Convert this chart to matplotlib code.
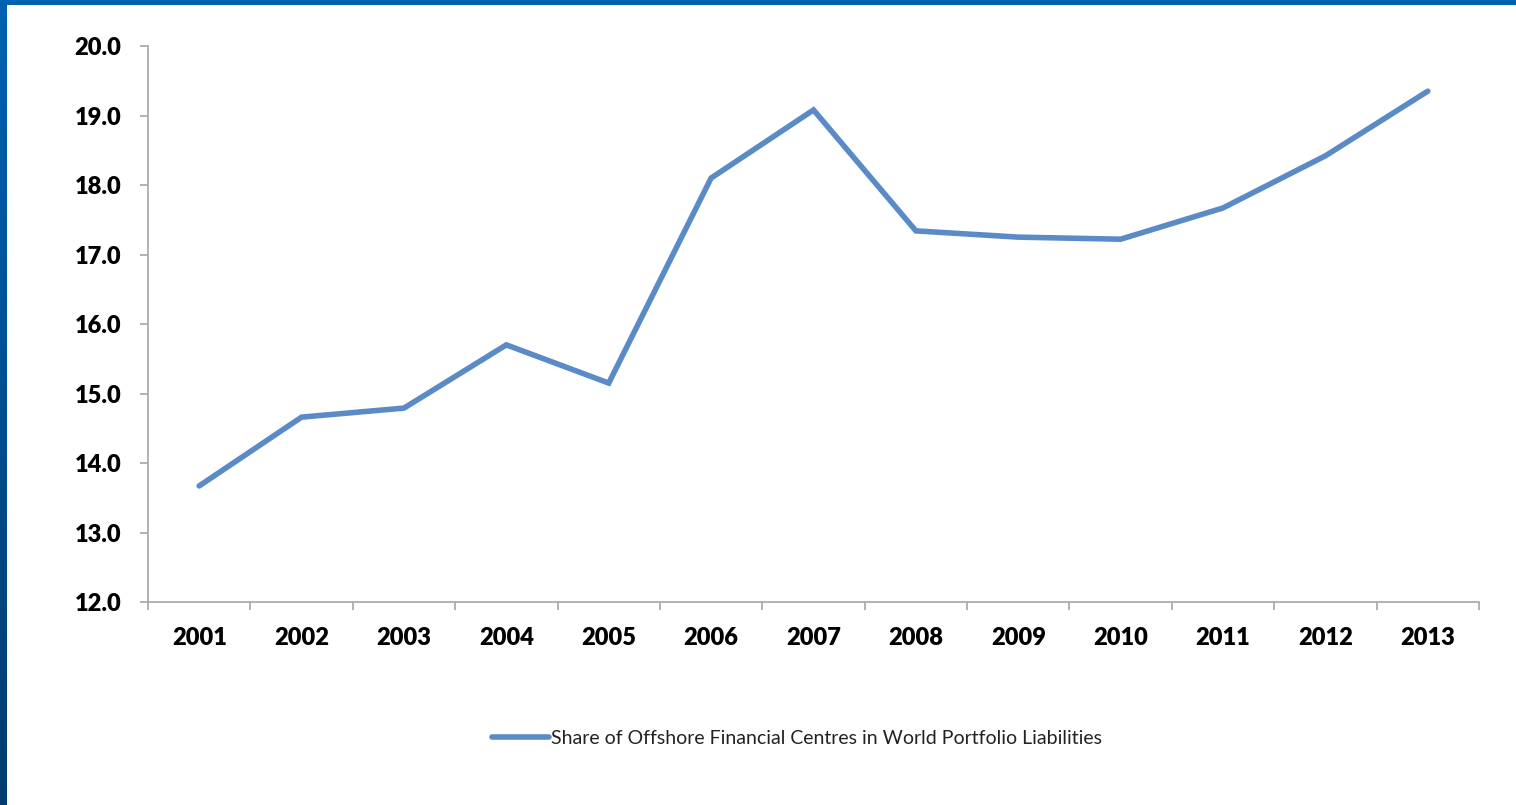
import matplotlib
matplotlib.use("Agg")
import matplotlib.pyplot as plt
import numpy as np
from matplotlib.colors import LinearSegmentedColormap

years = ["2001", "2002", "2003", "2004", "2005", "2006", "2007",
         "2008", "2009", "2010", "2011", "2012", "2013"]
share = [13.67, 14.66, 14.79, 15.70, 15.15, 18.10, 19.08,
         17.34, 17.25, 17.22, 17.67, 18.42, 19.35]
yticks = [12.0, 13.0, 14.0, 15.0, 16.0, 17.0, 18.0, 19.0, 20.0]
series_label = "Share of Offshore Financial Centres in World Portfolio Liabilities"

W, H = 1516, 805
fig = plt.figure(figsize=(W / 100, H / 100), dpi=100)
fig.patch.set_facecolor("white")

# blue frame: top band and left gradient band
top = fig.add_axes([0, 1 - 5 / H, 1, 5 / H])
top.set_facecolor("#0062b3")
top.set_xticks([]); top.set_yticks([])
for s in top.spines.values():
    s.set_visible(False)
left = fig.add_axes([0, 0, 7 / W, 1])
grad = np.linspace(0, 1, 256).reshape(-1, 1)
cmap = LinearSegmentedColormap.from_list("b", ["#0062b3", "#003c6e"])
left.imshow(grad, aspect="auto", cmap=cmap, extent=[0, 1, 0, 1])
left.set_xticks([]); left.set_yticks([])
for s in left.spines.values():
    s.set_visible(False)

ax = fig.add_axes([148 / W, 1 - 602 / H, (1479 - 148) / W, (602 - 46) / H])
x = np.arange(len(years))
line, = ax.plot(x, share, color="#5b8bc6", linewidth=4.0, solid_capstyle="round",
                solid_joinstyle="miter", label=series_label)

ax.set_xlim(-0.5, len(years) - 0.5)
ax.set_ylim(12.0, 20.0)
ax.set_yticks(yticks)
ax.set_yticklabels([f"{v:.1f}" for v in yticks])
ax.set_xticks(x)
ax.set_xticklabels(years)
ax.set_xticks(np.arange(-0.5, len(years)), minor=True)

font = "Lato"
for lab in ax.get_yticklabels() + ax.get_xticklabels():
    lab.set_fontfamily(font)
    lab.set_fontweight("heavy")
    lab.set_fontsize(17)

grey = "#a6a6a6"
for s in ["top", "right"]:
    ax.spines[s].set_visible(False)
for s in ["left", "bottom"]:
    ax.spines[s].set_color(grey)
    ax.spines[s].set_linewidth(1.2)
ax.tick_params(axis="y", direction="out", length=6, width=1.2, color=grey, pad=13)
ax.tick_params(axis="x", which="major", length=0, pad=18)
ax.tick_params(axis="x", which="minor", direction="out", length=6, width=1.2, color=grey)

leg = fig.legend(handles=[line], loc="center", bbox_to_anchor=(797 / W, 1 - 738 / H),
                 frameon=False, handlelength=2.9, handletextpad=0.1,
                 prop={"family": font, "size": 14})
for t in leg.get_texts():
    t.set_color("#222222")

fig.savefig("out.png", dpi=100)
